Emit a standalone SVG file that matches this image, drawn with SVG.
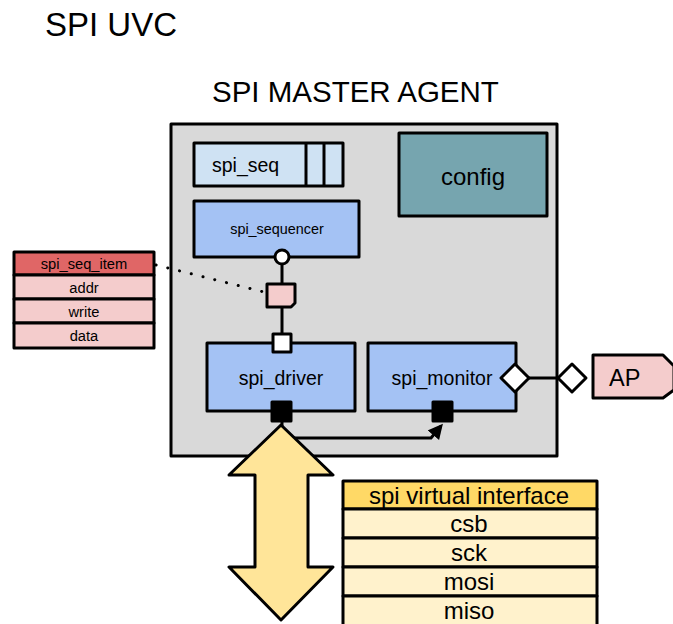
<svg xmlns="http://www.w3.org/2000/svg" width="673" height="624" viewBox="0 0 673 624">
<defs>
<style>
text{font-family:"Liberation Sans",Arial,sans-serif;fill:#000;}
.b{stroke:#000;stroke-width:3;stroke-linejoin:round;}
.c{text-anchor:middle;}
</style>
<marker id="ah" viewBox="0 0 10 10" refX="8" refY="5" markerWidth="5" markerHeight="5" orient="auto" markerUnits="strokeWidth">
<path d="M0,0 L10,5 L0,10 z" fill="#000"/>
</marker>
</defs>
<rect width="673" height="624" fill="#fff"/>
<text x="45" y="36" font-size="33">SPI UVC</text>
<text x="212" y="102" font-size="29.5">SPI MASTER AGENT</text>

<g id="agent"><rect class="b" x="171" y="124" width="386" height="332" fill="#d9d9d9"/></g>

<g id="spi_seq">
<rect class="b" x="194" y="143" width="149" height="43" fill="#cfe2f3"/>
<line class="b" x1="306" y1="143" x2="306" y2="186"/>
<line class="b" x1="324" y1="143" x2="324" y2="186"/>
<text x="212" y="172" font-size="19.5">spi_seq</text>
</g>

<g id="config">
<rect class="b" x="399" y="133" width="148" height="83" fill="#76a5af"/>
<text class="c" x="473" y="185" font-size="24">config</text>
</g>

<g id="spi_sequencer">
<rect class="b" x="194" y="201" width="165" height="56" fill="#a4c2f4"/>
<text class="c" x="277" y="234" font-size="14.4">spi_sequencer</text>
</g>

<g id="connectors">
<line x1="156" y1="265" x2="264" y2="292" stroke="#000" stroke-width="3" stroke-dasharray="0.1 12" stroke-linecap="round"/>
<line class="b" x1="282" y1="257" x2="282" y2="343"/>
<line class="b" x1="523" y1="378" x2="564" y2="378"/>
<path d="M282,422 L282,438 L431,438 L441,426" fill="none" stroke="#000" stroke-width="3" marker-end="url(#ah)"/>
</g>

<g id="seq_port"><circle class="b" cx="282" cy="257" r="7" fill="#fff"/></g>

<g id="item_note"><path class="b" d="M267,284 L295,284 L295,303 L291,307 L267,307 Z" fill="#f4cccc"/></g>

<g id="spi_seq_item">
<rect class="b" x="14" y="252" width="140" height="23" fill="#e06666"/>
<rect class="b" x="14" y="275" width="140" height="24" fill="#f4cccc"/>
<rect class="b" x="14" y="299" width="140" height="24" fill="#f4cccc"/>
<rect class="b" x="14" y="323" width="140" height="25" fill="#f4cccc"/>
<text class="c" x="84" y="269" font-size="14.7">spi_seq_item</text>
<text class="c" x="84" y="293" font-size="14.7">addr</text>
<text class="c" x="84" y="317" font-size="14.7">write</text>
<text class="c" x="84" y="341" font-size="14.7">data</text>
</g>

<g id="spi_driver">
<rect class="b" x="207" y="343" width="148" height="68" fill="#a4c2f4"/>
<text class="c" x="281" y="385" font-size="19.5">spi_driver</text>
<rect class="b" x="272" y="402" width="19" height="19" fill="#000"/>
</g>

<g id="drv_port"><rect class="b" x="273" y="334" width="18" height="18" fill="#fff"/></g>

<g id="spi_monitor">
<rect class="b" x="368" y="343" width="148" height="68" fill="#a4c2f4"/>
<text class="c" x="442" y="385" font-size="19.5">spi_monitor</text>
<rect class="b" x="433" y="402" width="19" height="19" fill="#000"/>
<path class="b" d="M515,364 L529,378 L515,392 L501,378 Z" fill="#fff"/>
</g>

<g id="ap">
<path class="b" d="M572,364 L586,378 L572,392 L558,378 Z" fill="#fff"/>
<path class="b" d="M593,355 L663,355 L674,366 L674,390 L663,398 L593,398 Z" fill="#f4cccc"/>
<text x="609" y="386" font-size="23.5">AP</text>
</g>

<g id="bus_arrow">
<path class="b" d="M281,425 L333,475 L308,475 L308,567 L333,567 L281,620 L229,567 L255,567 L255,475 L229,475 Z" fill="#ffe599"/>
</g>

<g id="vif">
<rect class="b" x="343" y="481" width="254" height="28" fill="#ffd966"/>
<rect class="b" x="343" y="509" width="254" height="29" fill="#fff2cc"/>
<rect class="b" x="343" y="538" width="254" height="29" fill="#fff2cc"/>
<rect class="b" x="343" y="567" width="254" height="29" fill="#fff2cc"/>
<rect class="b" x="343" y="596" width="254" height="30" fill="#fff2cc"/>
<text class="c" x="469" y="504" font-size="24">spi virtual interface</text>
<text class="c" x="469" y="532" font-size="24">csb</text>
<text class="c" x="469" y="561" font-size="24">sck</text>
<text class="c" x="469" y="590" font-size="24">mosi</text>
<text class="c" x="469" y="619" font-size="24">miso</text>
</g>
</svg>
